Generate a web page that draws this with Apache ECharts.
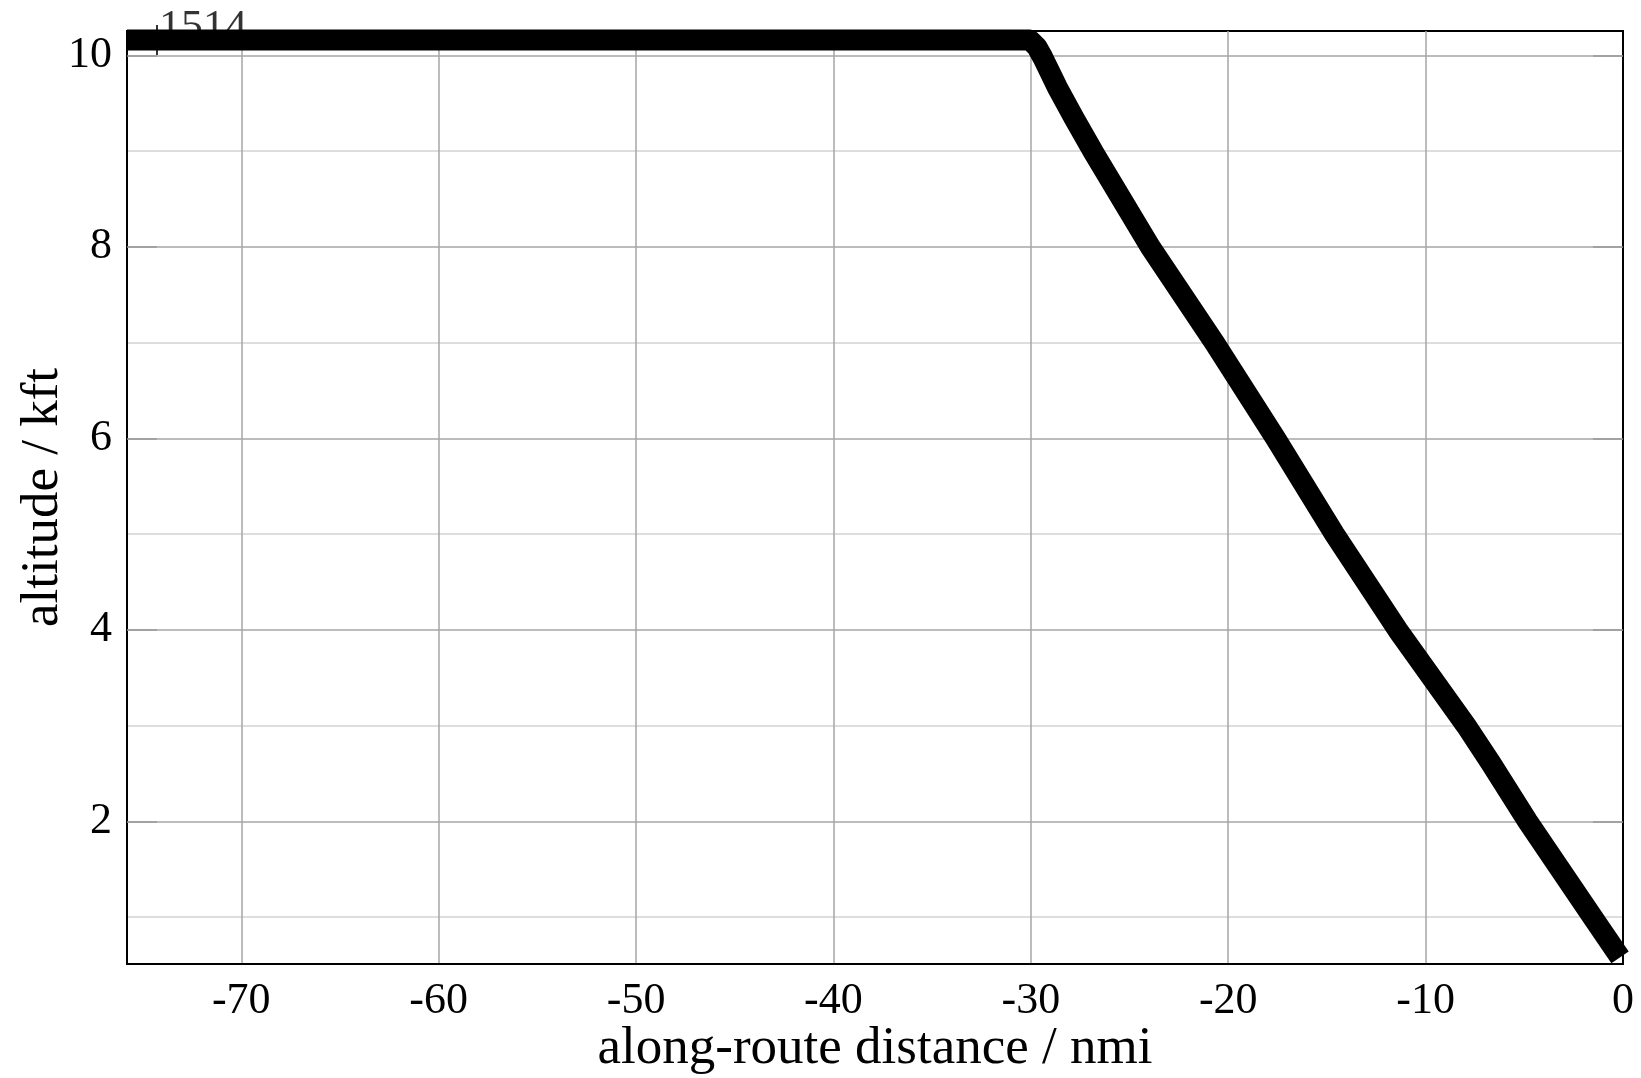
<!DOCTYPE html>
<html>
<head>
<meta charset="utf-8">
<script src="https://cdn.jsdelivr.net/npm/echarts@6/dist/echarts.min.js"></script>
<style>
html,body{margin:0;padding:0;background:#fff;}
#chart{width:1641px;height:1078px;}
</style>
</head>
<body>
<div id="chart"></div>
<script>
// ---- data ----
const distanceNmi = [-75.79, -74.27, -60, -45, -30.05, -29.7, -29.4, -28.67, -27.8, -26.86, -23.95, -20.70, -17.60, -14.62, -11.42, -7.95, -6.67, -4.83, -1.54, -0.15];
const altitudeKft = [10.16, 10.16, 10.16, 10.16, 10.16, 10.09, 9.98, 9.67, 9.34, 9.0, 8.0, 7.0, 6.0, 5.0, 4.0, 3.0, 2.6, 2.0, 1.0, 0.58];
const waypointName = ['1514'];
const waypointDistance = [-74.27];
const waypointAltitude = [10.16];
const xTickValues = [-70, -60, -50, -40, -30, -20, -10, 0];
const yTickValues = [2, 4, 6, 8, 10];
const yMinorValues = [1, 3, 5, 7, 9];
const xRange = [-75.79, 0];
const yRange = [0.51, 10.254];

const FONT = '"Liberation Serif", "DejaVu Serif", serif';

const chart = echarts.init(document.getElementById('chart'), null, {renderer: 'canvas'});

const lineData = distanceNmi.map((d, i) => [d, altitudeKft[i]]);
const wpData = waypointDistance.map((d, i) => ({value: [d, waypointAltitude[i]], name: waypointName[i]}));

const option = {
  backgroundColor: '#ffffff',
  animation: false,
  grid: {
    left: 127, top: 31, width: 1496, height: 933,
    outerBoundsMode: 'none', containLabel: false,
    show: true, borderColor: '#000', borderWidth: 2, backgroundColor: 'transparent'
  },
  xAxis: [{
    type: 'value', min: xRange[0], max: xRange[1],
    name: 'along-route distance / nmi', nameLocation: 'middle', nameGap: 59, nameMoveOverlap: false,
    nameTextStyle: {fontFamily: FONT, fontSize: 53, color: '#000'},
    axisLine: {show: true, onZero: false, lineStyle: {color: '#000', width: 2}},
    axisTick: {show: false, customValues: xTickValues},
    axisLabel: {customValues: xTickValues, fontFamily: FONT, fontSize: 44, color: '#000', margin: 15},
    splitLine: {show: true, lineStyle: {color: '#a6a6a6', width: 1.5}}
  }],
  yAxis: [{
    type: 'value', min: yRange[0], max: yRange[1], position: 'left',
    name: 'altitude / kft', nameLocation: 'middle', nameGap: 57, nameMoveOverlap: false,
    nameTextStyle: {fontFamily: FONT, fontSize: 53, color: '#000'},
    axisLine: {show: true, onZero: false, lineStyle: {color: '#000', width: 2}},
    axisTick: {show: true, inside: true, length: 30, customValues: yTickValues, lineStyle: {color: '#999', width: 1.5}},
    axisLabel: {customValues: yTickValues, fontFamily: FONT, fontSize: 44, color: '#000', margin: 15},
    splitLine: {show: true, lineStyle: {color: '#a6a6a6', width: 1.5}}
  }, {
    type: 'value', min: yRange[0], max: yRange[1], position: 'right',
    axisLine: {show: true, onZero: false, lineStyle: {color: '#000', width: 2}},
    axisTick: {show: true, inside: true, length: 30, customValues: yTickValues, lineStyle: {color: '#999', width: 1.5}},
    axisLabel: {show: false},
    splitLine: {show: false}
  }, {
    type: 'value', min: yRange[0], max: yRange[1], position: 'left',
    axisLine: {show: false},
    axisTick: {show: false, customValues: yMinorValues},
    axisLabel: {show: false, customValues: yMinorValues},
    splitLine: {show: true, lineStyle: {color: '#d2d2d2', width: 1.5}}
  }],
  series: [{
    type: 'scatter',
    z: 1,
    data: wpData,
    symbol: 'rect',
    symbolSize: [2, 30],
    itemStyle: {color: '#000'},
    label: {
      show: true, formatter: p => p.name,
      position: [3, -19], align: 'left', verticalAlign: 'top',
      fontFamily: FONT, fontSize: 44, color: '#000'
    }
  }, {
    type: 'line',
    z: 3,
    data: lineData,
    symbol: 'none',
    lineStyle: {color: '#000', width: 21, cap: 'butt', join: 'round'}
  }]
};
chart.setOption(option);
</script>
</body>
</html>
